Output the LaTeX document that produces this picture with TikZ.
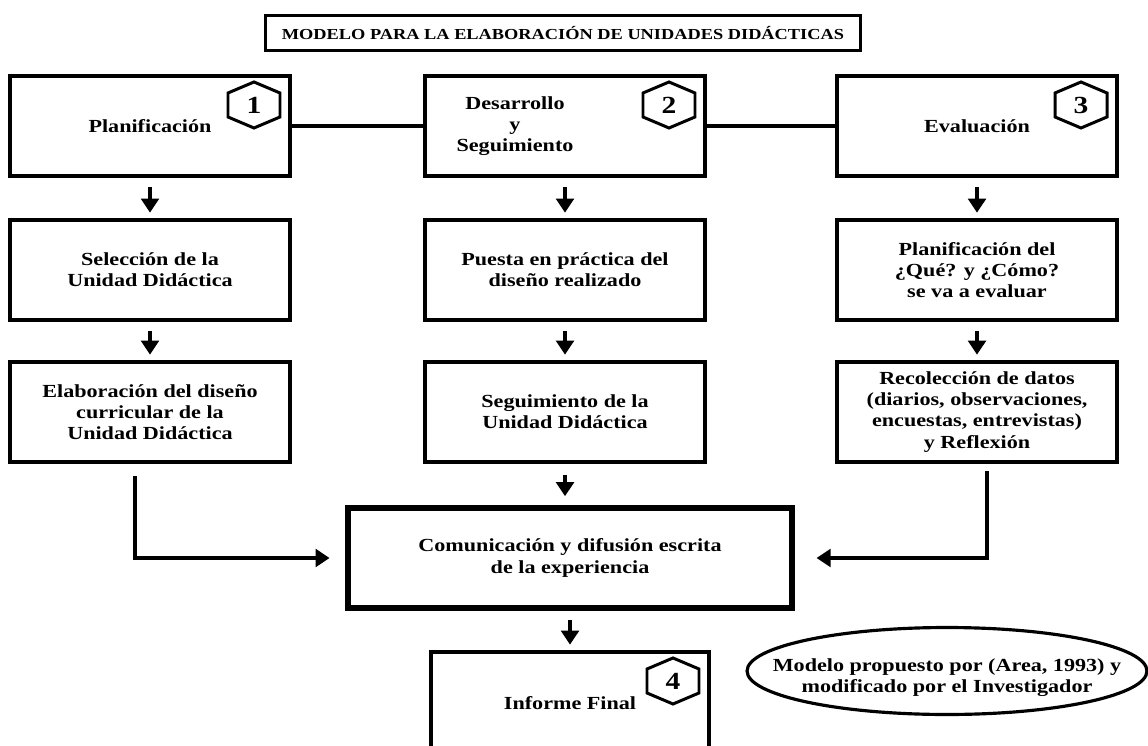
\documentclass[tikz,border=0pt]{standalone}
\usepackage{fontspec}
\setmainfont[FakeStretch=1.2]{Liberation Serif}
\usetikzlibrary{arrows.meta,shapes.geometric}

\begin{document}
\begin{tikzpicture}
  [x=0.02cm, y=-0.02cm,
   every node/.style={font=\fontsize{10.5}{12}\selectfont\bfseries, align=center},
   caja/.style={draw, line width=2.3pt, minimum width=5.6cm, minimum height=2cm},
   titulo/.style={draw, line width=1.7pt, minimum width=11.9cm, minimum height=0.7cm,
                  font=\fontsize{8.7}{10}\selectfont\bfseries},
   num/.style={font=\fontsize{14}{14}\selectfont\bfseries, inner sep=0pt},
   hexa/.style={line width=1.7pt, line join=miter},
   linea/.style={line width=2.3pt},
   flecha/.style={line width=2.2pt, -{Triangle[length=8pt,width=10pt]},
                  shorten <=5pt, shorten >=3pt},
   nota/.style={draw, ellipse, line width=1.8pt, minimum width=8cm, minimum height=1.74cm}]
  \useasboundingbox (0,0) rectangle (1148,746);
  \clip (0,0) rectangle (1148,746);

  \node[titulo] (titulo) at (563,33) {MODELO PARA LA ELABORACIÓN DE UNIDADES DIDÁCTICAS};

  % fila 1
  \node[caja] (plan) at (150,126) {Planificación};
  \node[caja] (desa) at (565,126) {};
  \node (desatxt) at ([xshift=-1cm]desa) {Desarrollo\\y\\Seguimiento};
  \node[caja] (eval) at (977,126) {Evaluación};

  % fila 2
  \node[caja] (sel) at (150,270) {Selección de la\\Unidad Didáctica};
  \node[caja] (puesta) at (565,270) {Puesta en práctica del\\diseño realizado};
  \node[caja] (planeval) at (977,270) {Planificación del\\¿Qué? y ¿Cómo?\\se va a evaluar};

  % fila 3
  \node[caja] (elab) at (150,412) {Elaboración del diseño\\curricular de la\\Unidad Didáctica};
  \node[caja] (segui) at (565,412) {Seguimiento de la\\Unidad Didáctica};
  \node[caja] (recol) at (977,412) {Recolección de datos\\(diarios, observaciones,\\encuestas, entrevistas)\\y Reflexión};

  % comunicacion e informe
  \node[caja, line width=3.4pt, minimum width=8.9cm] (comun) at (570,558) {Comunicación y difusión escrita\\de la experiencia};
  \node[caja, minimum width=5.56cm, minimum height=2.04cm] (inf) at (570,703) {Informe Final};
  \node[nota] (nota) at (947,671) {};
  \node (notatxt) at ([yshift=-0.14cm]nota) {Modelo propuesto por (Area, 1993) y\\modificado por el Investigador};

  % numeros
  \node[num] (h1) at ([shift={(-38,31)}]plan.north east) {1};
  \node[num] (h2) at ([shift={(-38,31)}]desa.north east) {2};
  \node[num] (h3) at ([shift={(-38,31)}]eval.north east) {3};
  \node[num] (h4) at ([shift={(-38,31)}]inf.north east) {4};
  \foreach \h in {h1,h2,h3,h4}
    \draw[hexa] (\h) +(0,-23) -- +(26,-12) -- +(26,12) -- +(0,23) -- +(-26,12) -- +(-26,-12) -- cycle;

  % lineas y flechas
  \draw[linea] (plan) -- (desa);
  \draw[linea] (desa) -- (eval);
  \draw[flecha] (plan) -- (sel);
  \draw[flecha] (sel) -- (elab);
  \draw[flecha] (desa) -- (puesta);
  \draw[flecha] (puesta) -- (segui);
  \draw[flecha] (eval) -- (planeval);
  \draw[flecha] (planeval) -- (recol);
  \draw[flecha, shorten <=6pt, shorten >=5pt] (segui) -- (comun.north -| segui);
  \draw[flecha] (comun) -- (inf);
  \draw[flecha, shorten <=7pt, shorten >=8.5pt] ([xshift=-0.3cm]elab.south) |- (comun.west);
  \draw[flecha, shorten <=4pt, shorten >=12pt] ([xshift=0.2cm]recol.south) |- (comun.east);
\end{tikzpicture}
\end{document}
